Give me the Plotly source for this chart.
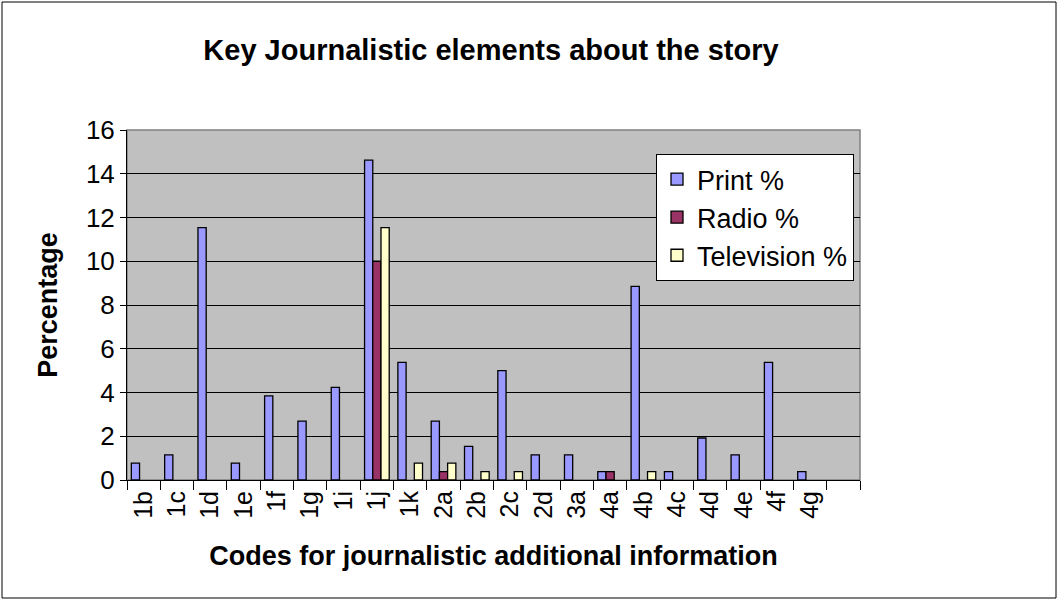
import plotly.graph_objects as go

categories = ["1b","1c","1d","1e","1f","1g","1i","1j","1k","2a","2b","2c","2d","3a","4a","4b","4c","4d","4e","4f","4g"," "]
print_pct = [0.77,1.15,11.54,0.77,3.85,2.69,4.23,14.62,5.38,2.69,1.54,5.0,1.15,1.15,0.38,8.85,0.38,1.92,1.15,5.38,0.38,None]
radio_pct = [None,None,None,None,None,None,None,10.0,None,0.38,None,None,None,None,0.38,None,None,None,None,None,None,None]
tv_pct = [None,None,None,None,None,None,None,11.54,0.77,0.77,0.38,0.38,None,None,None,0.38,None,None,None,None,None,None]

FONT = "Liberation Sans, Arial, sans-serif"
L, R, T, B = 127, 198, 130, 120
PW, PH = 1058 - L - R, 600 - T - B

fig = go.Figure()
for name, vals, col in [("Print %", print_pct, "#9999FF"),
                        ("Radio %", radio_pct, "#993366"),
                        ("Television %", tv_pct, "#FFFFCC")]:
    fig.add_trace(go.Bar(x=categories, y=vals, name=name,
                         marker=dict(color=col, line=dict(color="black", width=1.3))))

fig.update_layout(
    width=1058, height=600,
    margin=dict(l=L, r=R, t=T, b=B, pad=0),
    paper_bgcolor="white", plot_bgcolor="#C0C0C0",
    barmode="group", bargap=0.26, bargroupgap=0,
    font=dict(family=FONT, size=26, color="black"),
    title=dict(text="<b>Key Journalistic elements about the story</b>",
               x=491 / 1058, xanchor="center", y=1 - 50 / 600, yanchor="middle",
               font=dict(size=29, family=FONT)),
    showlegend=True,
    legend=dict(x=(656 - L) / PW, y=(480 - 154) / PH, xanchor="left", yanchor="top",
                bgcolor="white", bordercolor="black", borderwidth=1,
                font=dict(size=27, family=FONT), tracegroupgap=0,
                itemwidth=30),
    xaxis=dict(type="category", tickangle=-90, tickson="boundaries",
               ticks="outside", ticklen=9, tickcolor="black",
               showline=True, linecolor="black", linewidth=1,
               showgrid=False, tickfont=dict(size=25),
               title=dict(text="<b>Codes for journalistic additional information</b>",
                          font=dict(size=27), standoff=28)),
    yaxis=dict(range=[0, 16], dtick=2, ticks="outside", ticklen=6, tickcolor="black",
               showline=True, linecolor="black", linewidth=1,
               showgrid=True, gridcolor="black", gridwidth=1,
               tickfont=dict(size=26), zeroline=False,
               title=dict(text="<b>Percentage</b>", font=dict(size=27), standoff=20)),
)

# plot area border (gray) and outer chart border
fig.add_shape(type="rect", xref="paper", yref="paper", x0=0, y0=0, x1=1, y1=1,
              line=dict(color="#808080", width=1.5), layer="below")
fig.add_shape(type="rect", xref="paper", yref="paper",
              x0=(2 - L) / PW, x1=(1056 - L) / PW,
              y0=(480 - 598) / PH, y1=(480 - 2) / PH,
              line=dict(color="black", width=1))

fig.write_html("out.html", config={"displayModeBar": False},
               post_script="document.body.style.margin='0';")
